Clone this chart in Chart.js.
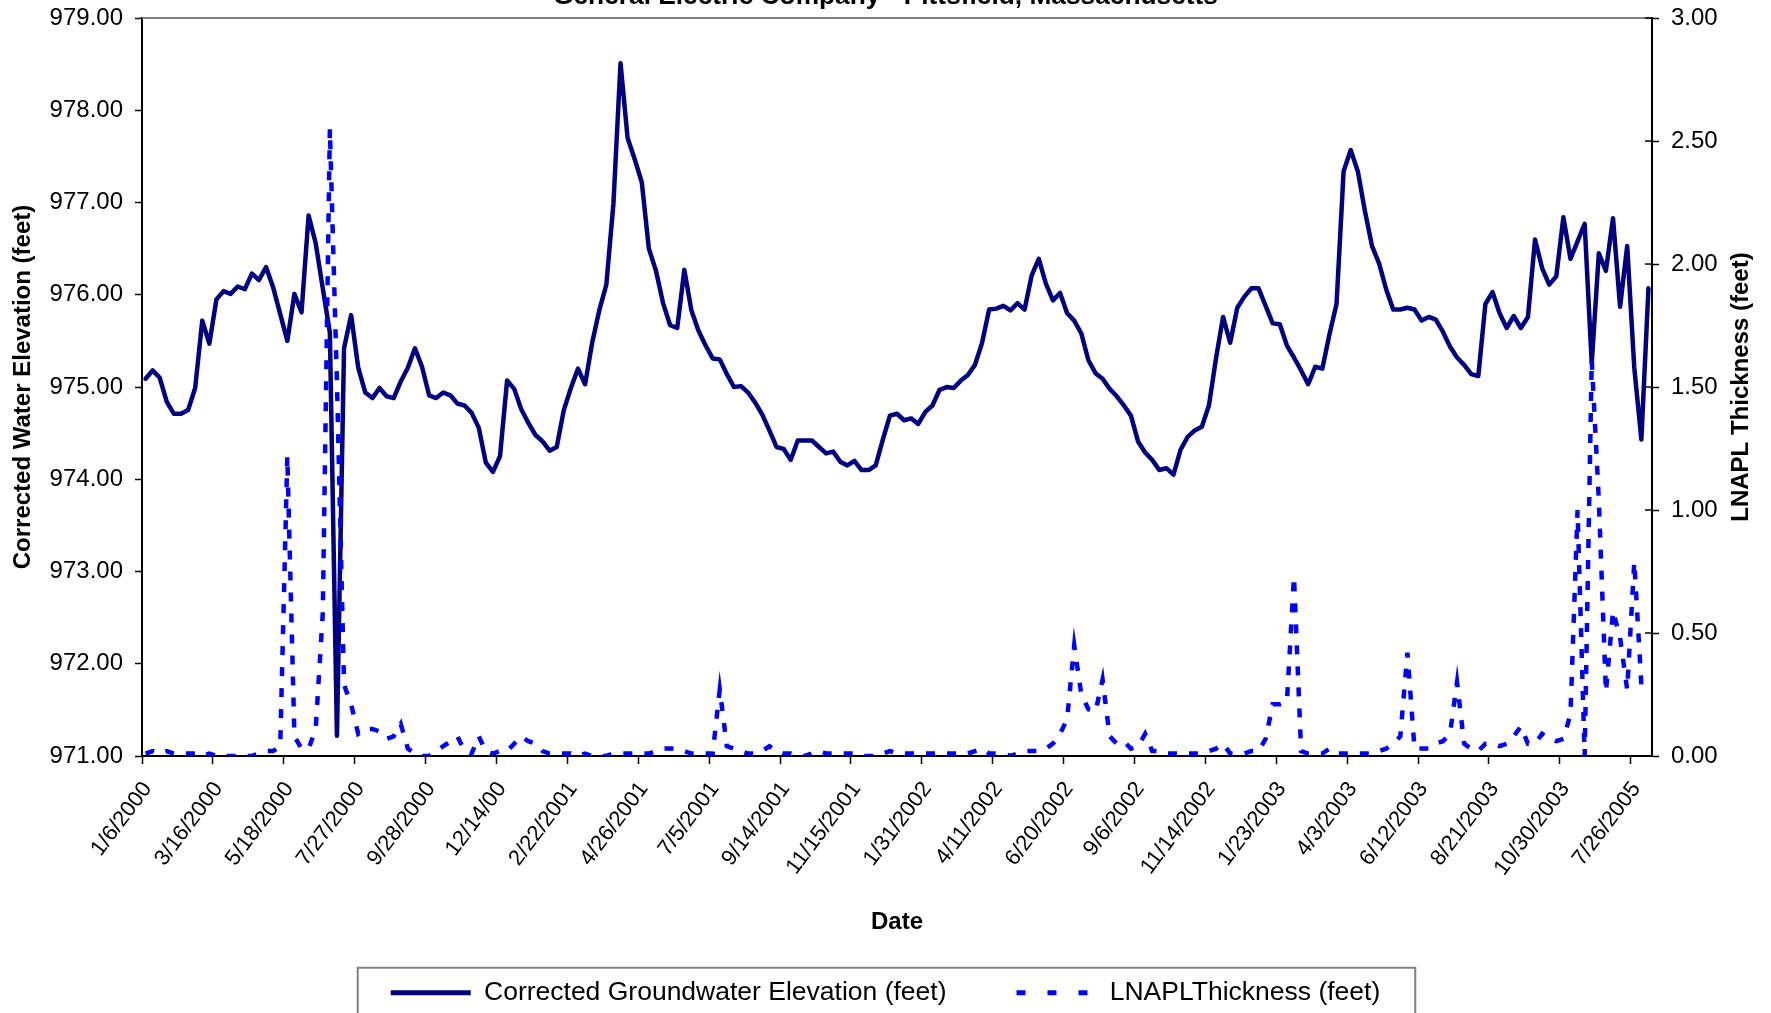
<!DOCTYPE html>
<html>
<head>
<meta charset="utf-8">
<script src="https://cdn.jsdelivr.net/npm/chart.js@4.4.1/dist/chart.umd.min.js"></script>
<style>
  html, body { margin: 0; padding: 0; background: #ffffff; }
  #frame { position: relative; width: 1771px; height: 1013px; overflow: hidden; background: #ffffff; }
  #box { position: absolute; left: 0; top: -19px; width: 1771px; height: 1035px; }
</style>
</head>
<body>
<div id="frame"><div id="box"><canvas id="chart"></canvas></div></div>
<script>
// ---- data ----
const chartTitle = 'General Electric Company - Pittsfield, Massachusetts';
const seriesNames = ['Corrected Groundwater Elevation (feet)', 'LNAPLThickness (feet)'];
const axisTitles = { x: 'Date', left: 'Corrected Water Elevation (feet)', right: 'LNAPL Thickness (feet)' };

// one tick label every 10 readings
const tickLabels = ['1/6/2000', '3/16/2000', '5/18/2000', '7/27/2000', '9/28/2000', '12/14/00',
  '2/22/2001', '4/26/2001', '7/5/2001', '9/14/2001', '11/15/2001', '1/31/2002', '4/11/2002',
  '6/20/2002', '9/6/2002', '11/14/2002', '1/23/2003', '4/3/2003', '6/12/2003', '8/21/2003',
  '10/30/2003', '7/26/2005'];
const labelEvery = 10;

const elevation = [
  975.09, 975.18, 975.10, 974.84, 974.71, 974.71, 974.75, 974.99, 975.72, 975.47,
  975.95, 976.04, 976.01, 976.09, 976.06, 976.23, 976.16, 976.30, 976.08, 975.79,
  975.50, 976.01, 975.81, 976.86, 976.56, 976.07, 975.59, 971.22, 975.42, 975.78,
  975.21, 974.94, 974.88, 974.99, 974.90, 974.88, 975.06, 975.21, 975.42, 975.22,
  974.91, 974.88, 974.94, 974.91, 974.82, 974.80, 974.72, 974.56, 974.18, 974.08,
  974.25, 975.07, 974.98, 974.76, 974.61, 974.48, 974.41, 974.31, 974.35, 974.75,
  974.99, 975.20, 975.03, 975.48, 975.83, 976.11, 976.99, 978.51, 977.70, 977.47,
  977.22, 976.50, 976.26, 975.91, 975.67, 975.64, 976.27, 975.83, 975.61, 975.45,
  975.31, 975.30, 975.14, 975.00, 975.01, 974.94, 974.83, 974.70, 974.53, 974.35,
  974.33, 974.21, 974.42, 974.42, 974.42, 974.35, 974.28, 974.30, 974.19, 974.15,
  974.20, 974.10, 974.10, 974.15, 974.43, 974.69, 974.71, 974.64, 974.66, 974.60,
  974.73, 974.80, 974.97, 975.00, 974.99, 975.07, 975.13, 975.24, 975.48, 975.84,
  975.85, 975.88, 975.83, 975.91, 975.84, 976.21, 976.39, 976.12, 975.94, 976.02,
  975.80, 975.72, 975.58, 975.29, 975.15, 975.09, 974.98, 974.90, 974.80, 974.69,
  974.41, 974.29, 974.21, 974.10, 974.12, 974.05, 974.32, 974.46, 974.53, 974.57,
  974.80, 975.31, 975.76, 975.48, 975.86, 975.98, 976.07, 976.07, 975.88, 975.69,
  975.68, 975.45, 975.32, 975.18, 975.03, 975.22, 975.20, 975.57, 975.90, 977.34,
  977.57, 977.34, 976.91, 976.53, 976.34, 976.06, 975.84, 975.84, 975.86, 975.84,
  975.72, 975.76, 975.73, 975.60, 975.44, 975.32, 975.24, 975.14, 975.12, 975.90,
  976.03, 975.80, 975.64, 975.77, 975.64, 975.76, 976.60, 976.29, 976.11, 976.20,
  976.84, 976.39, 976.58, 976.77, 975.26, 976.45, 976.26, 976.83, 975.87, 976.53,
  975.21, 974.43, 976.07
];

const thickness = [
  0.01, 0.02, 0.01, 0.02, 0.01, 0.01, 0.01, 0.01, 0.00, 0.01,
  0.00, 0.00, 0.00, 0.00, 0.00, 0.00, 0.01, 0.02, 0.02, 0.04,
  1.22, 0.08, 0.03, 0.03, 0.11, 0.58, 2.55, 1.52, 0.29, 0.21,
  0.09, 0.11, 0.11, 0.10, 0.07, 0.08, 0.13, 0.03, 0.01, 0.00,
  0.00, 0.02, 0.04, 0.06, 0.08, 0.02, 0.01, 0.08, 0.02, 0.01,
  0.02, 0.02, 0.05, 0.08, 0.06, 0.05, 0.02, 0.01, 0.01, 0.01,
  0.01, 0.00, 0.01, 0.00, 0.00, 0.00, 0.01, 0.01, 0.01, 0.01,
  0.01, 0.01, 0.02, 0.03, 0.03, 0.03, 0.02, 0.01, 0.01, 0.01,
  0.01, 0.27, 0.04, 0.03, 0.02, 0.01, 0.01, 0.02, 0.04, 0.02,
  0.01, 0.01, 0.00, 0.00, 0.01, 0.02, 0.01, 0.01, 0.01, 0.01,
  0.01, 0.00, 0.00, 0.00, 0.01, 0.02, 0.01, 0.01, 0.01, 0.01,
  0.01, 0.01, 0.01, 0.01, 0.01, 0.01, 0.01, 0.02, 0.03, 0.01,
  0.01, 0.01, 0.00, 0.01, 0.02, 0.02, 0.02, 0.03, 0.05, 0.09,
  0.15, 0.45, 0.25, 0.19, 0.18, 0.31, 0.08, 0.05, 0.06, 0.03,
  0.04, 0.09, 0.02, 0.02, 0.01, 0.01, 0.01, 0.01, 0.01, 0.01,
  0.02, 0.03, 0.05, 0.01, 0.01, 0.01, 0.02, 0.02, 0.07, 0.21,
  0.21, 0.22, 0.73, 0.02, 0.01, 0.01, 0.01, 0.03, 0.01, 0.01,
  0.01, 0.01, 0.01, 0.01, 0.02, 0.03, 0.05, 0.08, 0.42, 0.03,
  0.03, 0.03, 0.05, 0.06, 0.09, 0.30, 0.05, 0.03, 0.02, 0.05,
  0.05, 0.04, 0.05, 0.08, 0.12, 0.05, 0.05, 0.09, 0.07, 0.06,
  0.07, 0.17, 1.00, 0.00, 1.61, 1.04, 0.26, 0.59, 0.48, 0.27,
  0.79, 0.29, 0.32
];

// category labels built from the tick labels (blank between labelled readings)
const categories = elevation.map((_, i) => (i % labelEvery === 0 ? (tickLabels[i / labelEvery] || '') : ''));

Chart.defaults.font.family = "'Liberation Sans', Arial, Helvetica, sans-serif";
Chart.defaults.color = '#000000';

const decorations = {
  id: 'decorations',
  afterDraw(chart) {
    const { ctx, chartArea: a, scales } = chart;
    ctx.save();
    // grey top edge of the plot area
    ctx.strokeStyle = '#808080';
    ctx.lineWidth = 2;
    ctx.beginPath();
    ctx.moveTo(a.left, a.top);
    ctx.lineTo(a.right, a.top);
    ctx.stroke();
    // inner half of the right-axis tick marks
    const r = scales.y1;
    ctx.strokeStyle = '#000000';
    ctx.lineWidth = 1.5;
    r.ticks.forEach((t, i) => {
      const py = r.getPixelForTick(i);
      ctx.beginPath();
      ctx.moveTo(a.right - 7, py);
      ctx.lineTo(a.right, py);
      ctx.stroke();
    });
    // right axis title, reading bottom to top
    ctx.fillStyle = '#000000';
    ctx.font = "bold 24px 'Liberation Sans', Arial, sans-serif";
    ctx.textAlign = 'center';
    ctx.textBaseline = 'middle';
    ctx.translate(chart.width - 30, (a.top + a.bottom) / 2);
    ctx.rotate(-Math.PI / 2);
    ctx.fillText(axisTitles.right, 0, 0);
    ctx.restore();
    // legend frame
    const lg = chart.legend;
    const hb = lg.legendHitBoxes;
    if (hb && hb.length) {
      const first = hb[0], last = hb[hb.length - 1];
      const x0 = first.left - 33;
      const x1 = last.left + last.width + 35;
      const yMid = first.top + first.height / 2;
      const y0 = yMid - 25;
      ctx.save();
      ctx.strokeStyle = '#808080';
      ctx.lineWidth = 2;
      ctx.beginPath();
      ctx.moveTo(x0, chart.height + 5);
      ctx.lineTo(x0, y0);
      ctx.lineTo(x1, y0);
      ctx.lineTo(x1, chart.height + 5);
      ctx.stroke();
      ctx.restore();
    }
  }
};

new Chart(document.getElementById('chart'), {
  type: 'line',
  data: {
    labels: categories,
    datasets: [
      {
        label: seriesNames[0],
        data: elevation,
        yAxisID: 'y',
        borderColor: '#000080',
        backgroundColor: '#000080',
        borderWidth: 4.5,
        borderJoinStyle: 'round',
        borderCapStyle: 'round',
        pointRadius: 0,
        fill: false,
        tension: 0,
        order: 1
      },
      {
        label: seriesNames[1],
        data: thickness,
        yAxisID: 'y1',
        borderColor: '#0000ff',
        backgroundColor: '#0000ff',
        borderWidth: 4.5,
        borderDash: [9, 12],
        borderCapStyle: 'butt',
        pointRadius: 0,
        fill: false,
        tension: 0,
        order: 0
      }
    ]
  },
  options: {
    responsive: true,
    maintainAspectRatio: false,
    devicePixelRatio: 1,
    animation: false,
    events: [],
    layout: { padding: 0 },
    plugins: {
      tooltip: { enabled: false },
      title: {
        display: true,
        text: chartTitle,
        color: '#000000',
        font: { size: 26.3, weight: 'bold' },
        padding: { top: 0, bottom: 5.5 }
      },
      legend: {
        position: 'bottom',
        labels: {
          usePointStyle: true,
          pointStyle: 'line',
          pointStyleWidth: 80,
          padding: 70,
          color: '#000000',
          font: { size: 26.5 },
          sort: (a, b) => a.datasetIndex - b.datasetIndex,
          generateLabels(chart) {
            const items = Chart.defaults.plugins.legend.labels.generateLabels(chart);
            items.forEach(it => {
              it.lineWidth = 5;
              if (it.datasetIndex === 1) it.lineDash = [9, 22];
            });
            return items;
          }
        }
      }
    },
    scales: {
      x: {
        type: 'category',
        offset: true,
        grid: {
          display: true,
          offset: true,
          drawOnChartArea: false,
          drawTicks: true,
          tickLength: 8,
          tickWidth: 1.5,
          tickColor: c => (c.index % labelEvery === 0 ? '#000000' : 'rgba(0,0,0,0)')
        },
        border: { display: true, color: '#000000', width: 2 },
        ticks: {
          autoSkip: false,
          minRotation: 53,
          maxRotation: 53,
          padding: 13,
          labelOffset: 2,
          color: '#000000',
          font: { size: 22 }
        },
        title: {
          display: true,
          text: axisTitles.x,
          color: '#000000',
          font: { size: 24, weight: 'bold' },
          padding: { top: 0, bottom: -26.9 }
        },
        afterFit: s => { s.height = 153.5; }
      },
      y: {
        position: 'left',
        min: 971,
        max: 979,
        grid: { drawOnChartArea: false, tickLength: 7, tickWidth: 1.5, tickColor: '#000000' },
        border: { display: true, color: '#000000', width: 2 },
        ticks: { stepSize: 1, padding: 12, color: '#000000', font: { size: 24 }, callback: v => Number(v).toFixed(2) },
        title: {
          display: true,
          text: axisTitles.left,
          color: '#000000',
          font: { size: 24, weight: 'bold' },
          padding: { top: 8.6, bottom: 0 }
        },
        afterFit: s => { s.width = 142; }
      },
      y1: {
        position: 'right',
        min: 0,
        max: 3,
        grid: { drawOnChartArea: false, tickLength: 7, tickWidth: 1.5, tickColor: '#000000' },
        border: { display: true, color: '#000000', width: 2 },
        ticks: { stepSize: 0.5, padding: 12, color: '#000000', font: { size: 24 }, callback: v => Number(v).toFixed(2) },
        afterFit: s => { s.width = 119; }
      }
    }
  },
  plugins: [decorations]
});
</script>
</body>
</html>
